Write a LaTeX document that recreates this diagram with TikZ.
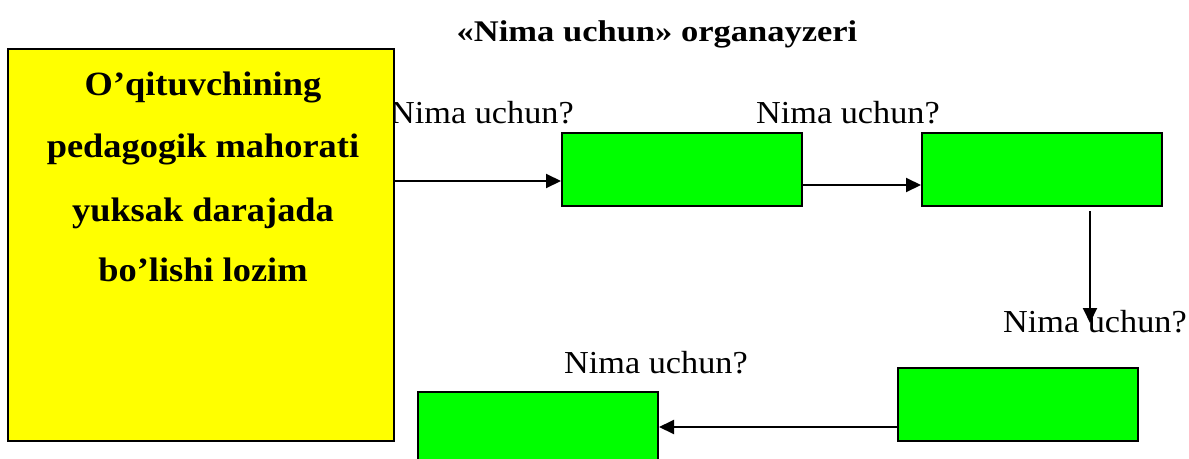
\documentclass[tikz,border=0pt]{standalone}
\usepackage{fontspec}
\setmainfont{Liberation Serif}
\usepackage{graphicx}
\usetikzlibrary{arrows.meta}
\definecolor{ybox}{HTML}{FFFF00}
\definecolor{gbox}{HTML}{00FF00}
\newcommand{\wide}[2][1.07]{\scalebox{#1}[1]{#2}}
\tikzset{
  mainbox/.style={draw=black, fill=ybox, line width=2pt, rectangle, minimum width=386pt, minimum height=392pt, inner sep=0pt},
  greenbox/.style={draw=black, fill=gbox, line width=2pt, rectangle, minimum width=240pt, minimum height=73pt, inner sep=0pt},
  lbl/.style={anchor=base west, inner sep=0pt, font=\fontsize{32}{38}\selectfont},
  ttl/.style={anchor=base, inner sep=0pt, font=\fontsize{30}{36}\selectfont\bfseries},
  ytxt/.style={anchor=base, inner sep=0pt, font=\fontsize{34}{40}\selectfont\bfseries},
  arr/.style={line width=2pt, -{Triangle[length=15pt, width=14pt]}}
}
\begin{document}
\begin{tikzpicture}[x=1pt, y=-1pt]
\useasboundingbox (0,0) rectangle (1189,458);
% title
\node[ttl] (title) at (657,41) {\wide[1.15]{«Nima uchun» organayzeri}};
% label partly hidden by the yellow box
\node[lbl] (q1) at (390,123) {\wide{Nima uchun?}};
% boxes
\node[mainbox] (main) at (201,245) {};
\node[greenbox] (g1) at (682,169.5) {};
\node[greenbox] (g2) at (1042,169.5) {};
\node[greenbox] (g3) at (1018,404.5) {};
\node[greenbox] (g4) at (538,428.5) {};
% text in the yellow box
\node[ytxt] (t1) at (203,95) {\wide{O’qituvchining}};
\node[ytxt] (t2) at (203,157) {\wide{pedagogik mahorati}};
\node[ytxt] (t3) at (203,221) {\wide{yuksak darajada}};
\node[ytxt] (t4) at (203,281) {\wide{bo’lishi lozim}};
% other labels
\node[lbl] (q2) at (756,123) {\wide{Nima uchun?}};
\node[lbl] (q3) at (1003,332) {\wide{Nima uchun?}};
\node[lbl] (q4) at (564,373) {\wide{Nima uchun?}};
% connectors
\coordinate (a1) at (0,181);
\coordinate (a2) at (0,185);
\coordinate (d1) at (1090,323);
\coordinate (a3) at (0,427);
\draw[arr] (main.east |- a1) -- (g1.west |- a1);
\draw[arr] (g1.east |- a2) -- (g2.west |- a2);
\draw[arr] ([yshift=-4pt]g2.south -| d1) -- (d1);
\draw[arr] (g3.west |- a3) -- (g4.east |- a3);
\end{tikzpicture}
\end{document}
